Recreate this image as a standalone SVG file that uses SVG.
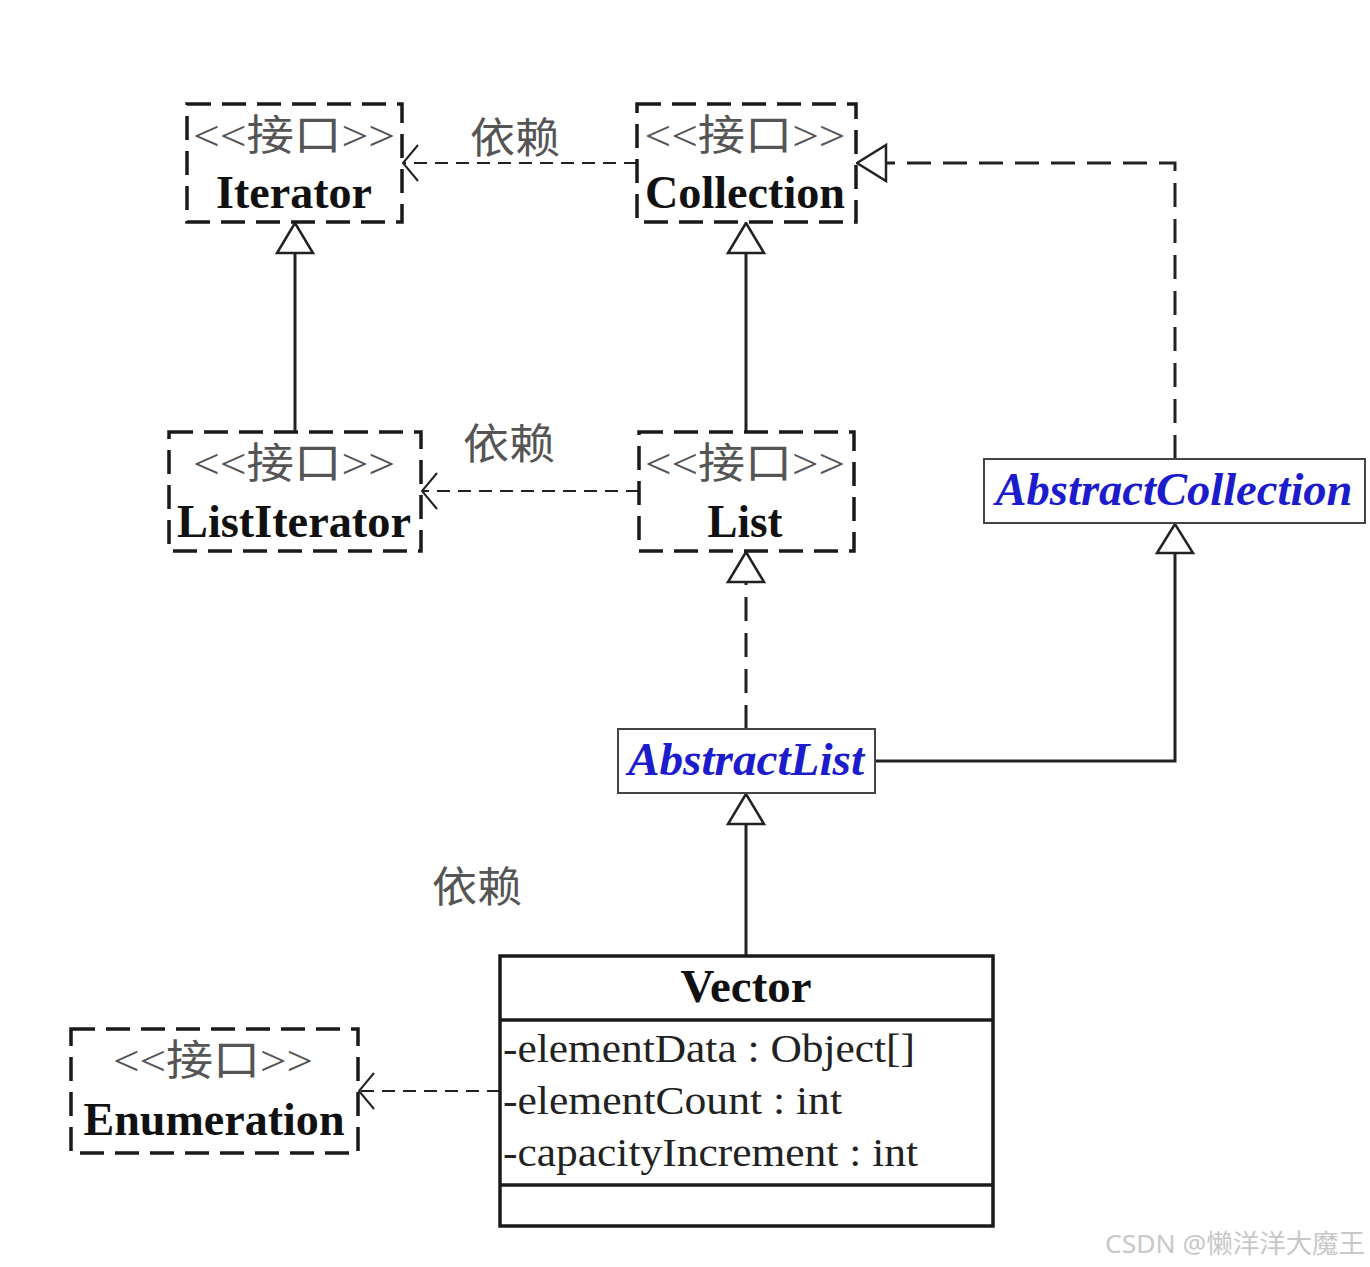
<svg xmlns="http://www.w3.org/2000/svg" width="1370" height="1267" viewBox="0 0 1370 1267">
<style>
.iface{fill:#fff;stroke:#1a1a1a;stroke-width:3.5;stroke-dasharray:24 11}
.cls{fill:#fff;stroke:#444;stroke-width:2}
.vec{fill:#fff;stroke:#1a1a1a;stroke-width:3.5}
.st{font-family:"Liberation Serif","Noto Sans CJK SC",serif;font-size:42px;fill:#555;text-anchor:middle}
.nm{font-family:"Liberation Serif","Noto Sans CJK SC",serif;font-size:46px;font-weight:bold;fill:#111;text-anchor:middle}
.ab{font-family:"Liberation Serif",serif;font-size:46px;font-weight:bold;font-style:italic;fill:#1c1ccc;text-anchor:middle}
.at{font-family:"Liberation Serif",serif;font-size:40px;fill:#222}
.lbl{font-family:"Noto Sans CJK SC",serif;font-size:42px;fill:#555}
.dep{fill:none;stroke:#222;stroke-width:2.2;stroke-dasharray:13 8}
.real{fill:none;stroke:#222;stroke-width:3;stroke-dasharray:24 12}
.gen{fill:none;stroke:#222;stroke-width:3}
.open{fill:none;stroke:#222;stroke-width:2}
.tri{fill:#fff;stroke:#222;stroke-width:2.5}
</style>
<rect width="1370" height="1267" fill="#fff"/>
<g id="connectors">
  <!-- Collection -> Iterator dependency -->
  <line class="dep" x1="637" y1="163" x2="404" y2="163"/>
  <polyline class="open" points="418,145 403,163 418,181"/>
  <!-- List -> ListIterator dependency -->
  <line class="dep" x1="639" y1="491" x2="423" y2="491"/>
  <polyline class="open" points="437,473 422,491 437,509"/>
  <!-- Vector -> Enumeration dependency -->
  <line class="dep" x1="500" y1="1091" x2="360" y2="1091"/>
  <polyline class="open" points="374,1073 359,1091 374,1109"/>
  <!-- ListIterator -> Iterator -->
  <line class="gen" x1="295" y1="432" x2="295" y2="253"/>
  <polygon class="tri" points="295,223 277,253 313,253"/>
  <!-- List -> Collection -->
  <line class="gen" x1="746" y1="432" x2="746" y2="253"/>
  <polygon class="tri" points="746,223 728,253 764,253"/>
  <!-- AbstractCollection -> Collection realization -->
  <polyline class="real" points="1175,459 1175,163 887,163"/>
  <polygon class="tri" points="857,163 886,145 886,181"/>
  <!-- AbstractList -> List realization -->
  <line class="real" x1="746" y1="729" x2="746" y2="582"/>
  <polygon class="tri" points="746,552 728,582 764,582"/>
  <!-- AbstractList -> AbstractCollection -->
  <polyline class="gen" points="875,761 1175,761 1175,553"/>
  <polygon class="tri" points="1175,524 1157,553 1193,553"/>
  <!-- Vector -> AbstractList -->
  <line class="gen" x1="746" y1="955" x2="746" y2="824"/>
  <polygon class="tri" points="746,794 728,824 764,824"/>
  <text class="lbl" x="470" y="153" textLength="90" lengthAdjust="spacingAndGlyphs">依赖</text>
  <text class="lbl" x="463" y="459" textLength="92" lengthAdjust="spacingAndGlyphs">依赖</text>
  <text class="lbl" x="432" y="902" textLength="90" lengthAdjust="spacingAndGlyphs">依赖</text>
</g>
<g id="Iterator">
  <rect class="iface" x="187" y="104" width="215" height="118"/>
  <text class="st" x="294" y="150" textLength="202" lengthAdjust="spacingAndGlyphs">&lt;&lt;接口&gt;&gt;</text>
  <text class="nm" x="294" y="208" textLength="156" lengthAdjust="spacingAndGlyphs">Iterator</text>
</g>
<g id="Collection">
  <rect class="iface" x="637" y="104" width="219" height="118"/>
  <text class="st" x="745" y="150" textLength="201" lengthAdjust="spacingAndGlyphs">&lt;&lt;接口&gt;&gt;</text>
  <text class="nm" x="745" y="208" textLength="200" lengthAdjust="spacingAndGlyphs">Collection</text>
</g>
<g id="ListIterator">
  <rect class="iface" x="169" y="432" width="252" height="119"/>
  <text class="st" x="294" y="478" textLength="202" lengthAdjust="spacingAndGlyphs">&lt;&lt;接口&gt;&gt;</text>
  <text class="nm" x="294" y="537" textLength="234" lengthAdjust="spacingAndGlyphs">ListIterator</text>
</g>
<g id="List">
  <rect class="iface" x="639" y="432" width="215" height="119"/>
  <text class="st" x="745" y="478" textLength="200" lengthAdjust="spacingAndGlyphs">&lt;&lt;接口&gt;&gt;</text>
  <text class="nm" x="745" y="537" textLength="75" lengthAdjust="spacingAndGlyphs">List</text>
</g>
<g id="AbstractCollection">
  <rect class="cls" x="984" y="459" width="381" height="64"/>
  <text class="ab" x="1174" y="505" textLength="357" lengthAdjust="spacingAndGlyphs">AbstractCollection</text>
</g>
<g id="AbstractList">
  <rect class="cls" x="618" y="729" width="257" height="64"/>
  <text class="ab" x="746" y="775" textLength="236" lengthAdjust="spacingAndGlyphs">AbstractList</text>
</g>
<g id="Vector">
  <rect class="vec" x="500" y="956" width="493" height="270"/>
  <line class="vec" x1="500" y1="1020" x2="993" y2="1020"/>
  <line class="vec" x1="500" y1="1185" x2="993" y2="1185"/>
  <text class="nm" x="746" y="1002" textLength="131" lengthAdjust="spacingAndGlyphs">Vector</text>
  <text class="at" x="503" y="1062" textLength="412" lengthAdjust="spacingAndGlyphs">-elementData : Object[]</text>
  <text class="at" x="503" y="1114" textLength="339" lengthAdjust="spacingAndGlyphs">-elementCount : int</text>
  <text class="at" x="503" y="1166" textLength="415" lengthAdjust="spacingAndGlyphs">-capacityIncrement : int</text>
</g>
<g id="Enumeration">
  <rect class="iface" x="71" y="1029" width="287" height="124"/>
  <text class="st" x="213" y="1075" textLength="200" lengthAdjust="spacingAndGlyphs">&lt;&lt;接口&gt;&gt;</text>
  <text class="nm" x="214" y="1135" textLength="261" lengthAdjust="spacingAndGlyphs">Enumeration</text>
</g>
<text x="1105" y="1253" font-family="'Noto Sans','Noto Sans CJK SC',sans-serif" font-size="26" fill="#c8c8c8" textLength="260" lengthAdjust="spacingAndGlyphs">CSDN @懒洋洋大魔王</text>
</svg>
